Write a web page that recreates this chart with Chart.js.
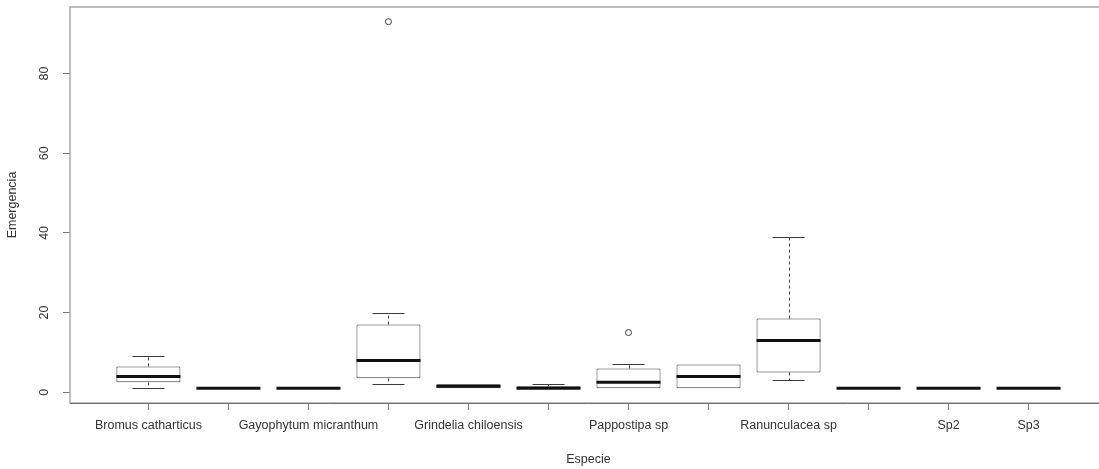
<!DOCTYPE html>
<html>
<head>
<meta charset="utf-8">
<title>Emergencia por especie</title>
<script src="https://cdn.jsdelivr.net/npm/chart.js@4.4.1/dist/chart.umd.min.js"></script>
<style>
  html, body { margin: 0; padding: 0; background: #fff; overflow: hidden; }
  #wrap { position: relative; width: 1120px; height: 469px; }
</style>
</head>
<body>
<div id="wrap"><canvas id="grafico"></canvas></div>
<script>
// Species along the x axis (names that do not fit are left blank, as in the R output)
const especies = ["Bromus catharticus", "", "Gayophytum micranthum", "", "Grindelia chiloensis", "",
                  "Pappostipa sp", "", "Ranunculacea sp", "", "Sp2", "Sp3"];

// Five-number summaries of emergence per species
const minimo  = [1,   1, 1, 2,   1,   1,   1,   1, 3,    1, 1, 1];
const q1      = [2.5, 1, 1, 3.5, 1,   1,   1,   1, 5,    1, 1, 1];
const mediana = [4,   1, 1, 8,   1.5, 1,   2.5, 4, 13,   1, 1, 1];
const q3      = [6.5, 1, 1, 17,  2,   1.5, 6,   7, 18.5, 1, 1, 1];
const maximo  = [9,   1, 1, 20,  2,   2,   7,   7, 39,   1, 1, 1];

// Outlying observations
const atipicoPos   = [4, 7];
const atipicoValor = [93, 15];

// Y axis tick values
const yTicks = [0, 20, 40, 60, 80];

const FONT = "'Liberation Sans', Arial, sans-serif";
const TXT = "#333";

const posiciones = especies.map((_, i) => i + 1);

// Whiskers, staples and medians drawn with the chart's scales
const cajas = {
  id: "cajas",
  beforeDatasetsDraw(chart) {
    const { ctx, scales: { x, y } } = chart;
    ctx.save();
    ctx.strokeStyle = "#3a3a3a";
    ctx.lineWidth = 1;
    posiciones.forEach((p, i) => {
      const px = Math.round(x.getPixelForValue(p)) + 0.5;
      ctx.setLineDash([3, 3]);
      ctx.beginPath();
      if (maximo[i] > q3[i]) { ctx.moveTo(px, y.getPixelForValue(q3[i])); ctx.lineTo(px, y.getPixelForValue(maximo[i])); }
      if (minimo[i] < q1[i]) { ctx.moveTo(px, y.getPixelForValue(q1[i])); ctx.lineTo(px, y.getPixelForValue(minimo[i])); }
      ctx.stroke();
      ctx.setLineDash([]);
      const sl = x.getPixelForValue(p - 0.2), sr = x.getPixelForValue(p + 0.2);
      ctx.beginPath();
      if (maximo[i] > q3[i]) { const yy = Math.round(y.getPixelForValue(maximo[i])) + 0.5; ctx.moveTo(sl, yy); ctx.lineTo(sr, yy); }
      if (minimo[i] < q1[i]) { const yy = Math.round(y.getPixelForValue(minimo[i])) + 0.5; ctx.moveTo(sl, yy); ctx.lineTo(sr, yy); }
      ctx.stroke();
    });
    ctx.restore();
  },
  afterDatasetsDraw(chart) {
    const { ctx, scales: { x, y } } = chart;
    ctx.save();
    ctx.strokeStyle = "#111";
    ctx.lineWidth = 3;
    posiciones.forEach((p, i) => {
      const yy = y.getPixelForValue(mediana[i]);
      ctx.beginPath();
      ctx.moveTo(x.getPixelForValue(p - 0.4), yy);
      ctx.lineTo(x.getPixelForValue(p + 0.4), yy);
      ctx.stroke();
    });
    ctx.restore();
  },
  afterDraw(chart) {
    const { ctx, chartArea: a, scales: { y } } = chart;
    ctx.save();
    // plot frame
    ctx.strokeStyle = "#a8a8a8";
    ctx.lineWidth = 1.5;
    ctx.beginPath();
    ctx.moveTo(a.right, a.bottom);
    ctx.lineTo(a.left, a.bottom);
    ctx.lineTo(a.left, a.top);
    ctx.lineTo(a.right, a.top);
    ctx.lineTo(a.right, a.bottom);
    ctx.stroke();
    ctx.strokeStyle = "#707070";
    ctx.lineWidth = 1;
    ctx.beginPath();
    ctx.moveTo(a.left, Math.round(a.bottom) + 0.5);
    ctx.lineTo(a.right, Math.round(a.bottom) + 0.5);
    ctx.stroke();
    // rotated y tick labels
    ctx.fillStyle = TXT;
    ctx.font = "12.5px " + FONT;
    ctx.textAlign = "center";
    ctx.textBaseline = "middle";
    yTicks.forEach(v => {
      ctx.save();
      ctx.translate(45, y.getPixelForValue(v));
      ctx.rotate(-Math.PI / 2);
      ctx.fillText(String(v), 0, 0);
      ctx.restore();
    });
    ctx.restore();
  }
};

new Chart(document.getElementById("grafico"), {
  data: {
    datasets: [
      {
        type: "bar",
        data: posiciones.map((p, i) => ({ x: p, y: [q1[i], q3[i]] })),
        backgroundColor: "#ffffff",
        borderColor: "#3a3a3a",
        borderWidth: 1,
        borderSkipped: false,
        barPercentage: 0.8,
        categoryPercentage: 1
      },
      {
        type: "scatter",
        data: atipicoPos.map((p, i) => ({ x: p, y: atipicoValor[i] })),
        pointStyle: "circle",
        pointRadius: 3,
        pointBorderWidth: 1,
        borderColor: "#3a3a3a",
        backgroundColor: "#ffffff"
      }
    ]
  },
  options: {
    responsive: true,
    maintainAspectRatio: false,
    animation: false,
    layout: { padding: { top: 7, right: 13, bottom: 0, left: 0 } },
    plugins: { legend: { display: false }, tooltip: { enabled: false } },
    scales: {
      x: {
        type: "linear",
        min: 0.02,
        max: 12.98,
        offset: false,
        afterBuildTicks: s => { s.ticks = posiciones.map(v => ({ value: v })); },
        afterFit: s => { s.height = 66; },
        border: { display: false },
        grid: { offset: false, drawOnChartArea: false, drawTicks: true, tickLength: 7, color: "#777" },
        ticks: {
          autoSkip: false,
          maxRotation: 0,
          minRotation: 0,
          padding: 8,
          color: TXT,
          font: { family: FONT, size: 12.5 },
          callback: v => especies[Math.round(v) - 1] || ""
        },
        title: {
          display: true,
          text: "Especie",
          color: TXT,
          font: { family: FONT, size: 12.5 },
          padding: { top: 0, bottom: 2 }
        }
      },
      y: {
        type: "linear",
        min: -2.68,
        max: 96.68,
        afterBuildTicks: s => { s.ticks = yTicks.map(v => ({ value: v })); },
        afterFit: s => { s.width = 70; },
        border: { display: false },
        grid: { drawOnChartArea: false, drawTicks: true, tickLength: 7, color: "#777" },
        ticks: { callback: () => "", font: { size: 1 } },
        title: {
          display: true,
          text: "Emergencia",
          color: TXT,
          font: { family: FONT, size: 12.5 },
          padding: { top: 5, bottom: 0 }
        }
      }
    }
  },
  plugins: [cajas]
});
</script>
</body>
</html>
